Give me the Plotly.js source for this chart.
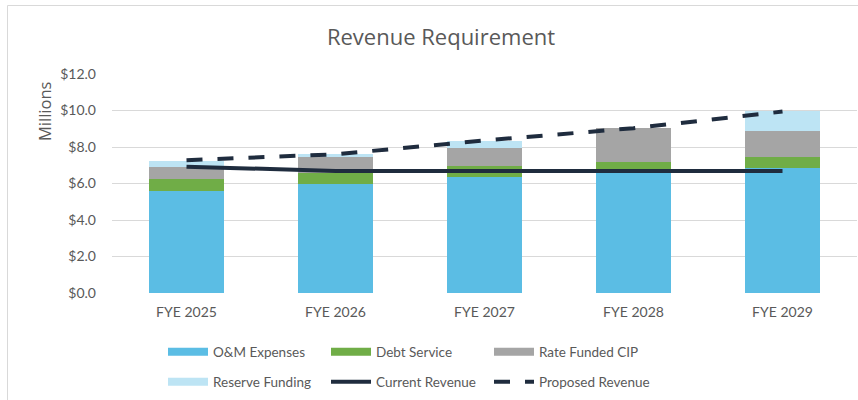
<!DOCTYPE html>
<html>
<head>
<meta charset="utf-8">
<script src="https://cdn.plot.ly/plotly-3.0.1.min.js"></script>
<style>
  html, body { margin: 0; padding: 0; background: #ffffff; }
  #chart { width: 858px; height: 400px; }
</style>
</head>
<body>
<div id="chart"></div>
<script>
// ---- Data (millions of dollars) ----
const categories = ["FYE 2025", "FYE 2026", "FYE 2027", "FYE 2028", "FYE 2029"];
const omExpenses     = [5.60, 5.97, 6.34, 6.65, 6.83];
const debtService    = [0.65, 0.59, 0.62, 0.55, 0.64];
const rateFundedCIP  = [0.64, 0.91, 0.97, 1.85, 1.40];
const reserveFunding = [0.35, 0.13, 0.40, 0.00, 1.08];
const currentRevenue  = [6.92, 6.69, 6.69, 6.69, 6.69];
const proposedRevenue = [7.28, 7.60, 8.36, 9.03, 9.94];
const yTickVals = [0, 2, 4, 6, 8, 10, 12];

// ---- Styles ----
const cOM = "#5bbde4", cDebt = "#70ad47", cCIP = "#a5a5a5", cRes = "#bde4f4", cLine = "#1f2c3e";
const FONT = "Lato, 'Open Sans', sans-serif";
const TFONT = "'Open Sans', Lato, sans-serif";
const TXT = "#595959";

function barTrace(name, vals, color) {
  return { type: "bar", name: name, x: categories, y: vals,
    marker: { color: color, line: { width: 0 } }, showlegend: false, hoverinfo: "name+y" };
}
function legendSwatch(name, color, legend) {
  return { type: "scatter", mode: "lines", name: name, x: [null], y: [null],
    line: { color: color, width: 8 }, legend: legend, hoverinfo: "skip" };
}

const traces = [
  barTrace("O&M Expenses", omExpenses, cOM),
  barTrace("Debt Service", debtService, cDebt),
  barTrace("Rate Funded CIP", rateFundedCIP, cCIP),
  barTrace("Reserve Funding", reserveFunding, cRes),
  legendSwatch("O&M Expenses", cOM, "legend"),
  legendSwatch("Debt Service", cDebt, "legend"),
  legendSwatch("Rate Funded CIP", cCIP, "legend"),
  legendSwatch("Reserve Funding", cRes, "legend2"),
  { type: "scatter", mode: "lines", name: "Current Revenue", x: categories, y: currentRevenue,
    line: { color: cLine, width: 4 }, legend: "legend2" },
  { type: "scatter", mode: "lines", name: "Proposed Revenue", x: categories, y: proposedRevenue,
    line: { color: cLine, width: 4, dash: "16px,15px" }, legend: "legend2" }
];

// plot area pixel geometry helpers (for frame lines / placement)
const L = 112, R = 1, T = 74, B = 107;
const W = 858, H = 400;
const pw = W - L - R, ph = H - T - B;
const px2x = p => (p - L) / pw;
const py2y = p => (H - B - p) / ph;

const legendCommon = {
  orientation: "h", xanchor: "left", yanchor: "middle",
  font: { family: FONT, size: 13.5, color: TXT },
  itemwidth: 40, entrywidth: 108, bgcolor: "rgba(0,0,0,0)", traceorder: "normal"
};

const layout = {
  width: W, height: H,
  margin: { l: L, r: R, t: T, b: B },
  paper_bgcolor: "#ffffff", plot_bgcolor: "#ffffff",
  font: { family: FONT, color: TXT },
  title: { text: "Revenue Requirement", font: { family: TFONT, size: 22, color: TXT },
    xref: "container", yref: "container", x: 441 / W, y: 1 - 37 / H, xanchor: "center", yanchor: "middle" },
  barmode: "stack", bargap: 0.5,
  xaxis: { type: "category", showgrid: false, showline: false, zeroline: false, ticks: "",
    tickfont: { family: FONT, size: 14, color: TXT }, ticklabelstandoff: 9 },
  yaxis: { range: [0, 12], tickmode: "array", tickvals: yTickVals, tickformat: "$.1f",
    showgrid: true, gridcolor: "#d9d9d9", gridwidth: 1, zeroline: false, showline: false, ticks: "",
    tickfont: { family: FONT, size: 14, color: TXT }, ticklabelstandoff: 15 },
  legend: Object.assign({}, legendCommon, { x: px2x(163), y: py2y(352) }),
  legend2: Object.assign({}, legendCommon, { x: px2x(163), y: py2y(382) }),
  annotations: [
    { text: "Millions", xref: "paper", yref: "paper", x: px2x(44), y: py2y(111),
      xanchor: "center", yanchor: "middle", textangle: -90, showarrow: false,
      font: { family: TFONT, size: 16.5, color: TXT } }
  ],
  shapes: [
    { type: "line", xref: "paper", yref: "paper", x0: px2x(7.5), x1: px2x(7.5), y0: py2y(5.5), y1: py2y(410),
      line: { color: "#d9d9d9", width: 1 } },
    { type: "line", xref: "paper", yref: "paper", x0: px2x(7.5), x1: px2x(870), y0: py2y(5.5), y1: py2y(5.5),
      line: { color: "#d9d9d9", width: 1 } }
  ],
  showlegend: true
};

Plotly.newPlot("chart", traces, layout, { displayModeBar: false, staticPlot: true });
</script>
</body>
</html>
